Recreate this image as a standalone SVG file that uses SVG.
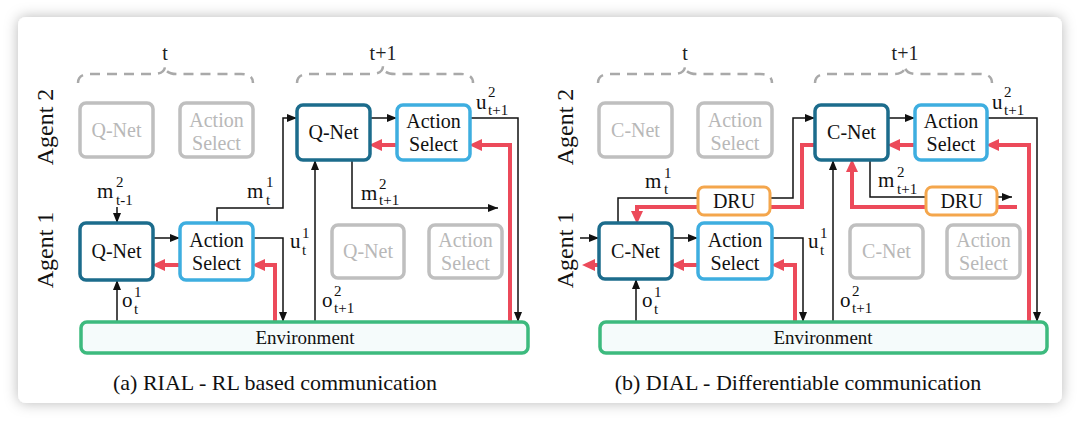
<svg xmlns="http://www.w3.org/2000/svg" width="1080" height="421" viewBox="0 0 1080 421">
  <defs>
    <filter id="cardShadow" x="-5%" y="-10%" width="110%" height="120%">
      <feDropShadow dx="0" dy="0" stdDeviation="7" flood-color="#000" flood-opacity="0.28"/>
    </filter>
    <marker id="ahBlack" markerUnits="userSpaceOnUse" markerWidth="10" markerHeight="8" refX="10" refY="4" orient="auto">
      <path d="M0,0 L10,4 L0,8 z" fill="#111"/>
    </marker>
    <marker id="ahRed" markerUnits="userSpaceOnUse" markerWidth="13" markerHeight="12" refX="7" refY="6" orient="auto">
      <path d="M0,0 L13,6 L0,12 z" fill="#ec4a5a"/>
    </marker>
    <style>
      text { font-family: "Liberation Serif", "Times New Roman", serif; }
      .box { fill: #fff; stroke-width: 3.5; }
      .qnet { stroke: #1c6c8c; }
      .asel { stroke: #3eaee0; }
      .dru { stroke: #f4a64c; stroke-width: 3; }
      .idle { stroke: #bfbfbf; }
      .env { fill: #f5fbfb; stroke: #3dba7e; stroke-width: 3.5; }
      .lbl { font-size: 20px; text-anchor: middle; fill: #111; }
      .lbl.idle-t { fill: #b8b8b8; }
      .brace { fill: none; stroke: #a9a9a9; stroke-width: 2.5; stroke-dasharray: 10 7; }
      .step { font-size: 20px; text-anchor: middle; fill: #222; }
      .agent { font-size: 24px; text-anchor: middle; fill: #111; }
      .cap { font-size: 22px; text-anchor: middle; fill: #111; }
      .wire { fill: none; stroke: #111; stroke-width: 1.5; }
      .wire.arr { marker-end: url(#ahBlack); }
      .grad { fill: none; stroke: #ec4a5a; stroke-width: 4; }
      .grad.arr { marker-end: url(#ahRed); }
      .v { font-size: 21px; fill: #111; }
      .s { font-size: 15px; fill: #111; }
    </style>
  </defs>

  <rect width="1080" height="421" fill="#fff"/>
  <rect x="18" y="17" width="1044" height="386" rx="8" fill="#fff" filter="url(#cardShadow)"/>

  <!-- ===================== (a) RIAL ===================== -->
  <g id="rial">
    <!-- time step braces -->
    <g id="a-brace-t">
      <path class="brace" d="M78,83 Q78,74 90,74 L153,74 Q165,74 165,66 Q165,74 177,74 L241,74 Q253,74 253,83"/>
      <text class="step" x="165" y="60">t</text>
    </g>
    <g id="a-brace-t1">
      <path class="brace" d="M297,83 Q297,74 309,74 L371,74 Q383,74 383,66 Q383,74 395,74 L461,74 Q473,74 473,83"/>
      <text class="step" x="383" y="60">t+1</text>
    </g>

    <g id="a-agent-labels">
      <text class="agent" transform="translate(53,127) rotate(-90)">Agent 2</text>
      <text class="agent" transform="translate(53,250) rotate(-90)">Agent 1</text>
    </g>

    <!-- connectors -->
    <g id="a-connectors">
      <path class="wire arr" d="M117,207 L117,223"/>
      <path class="wire arr" d="M153,238 L180,238"/>
      <path class="grad arr" d="M180,265 L158,265"/>
      <path class="wire arr" d="M117,322 L117,280"/>
      <path class="wire arr" d="M253,238 L283,238 L283,322"/>
      <path class="grad arr" d="M275,322 L275,265 L258,265"/>
      <path class="wire arr" d="M217,223 L217,208 L283,208 L283,118 L297,118"/>
      <path class="wire arr" d="M315,322 L315,160"/>
      <path class="wire arr" d="M370,118 L397,118"/>
      <path class="grad arr" d="M397,145 L375,145"/>
      <path class="wire arr" d="M470,118 L518,118 L518,322"/>
      <path class="grad arr" d="M510,322 L510,145 L475,145"/>
      <path class="wire arr" d="M352,160 L352,208 L498,208"/>
    </g>

    <g id="a-qnet-2-t">
      <rect class="box idle" x="80" y="103" width="73" height="54" rx="6"/>
      <text class="lbl idle-t" x="116.5" y="137">Q-Net</text>
    </g>
    <g id="a-act-2-t">
      <rect class="box idle" x="180" y="103" width="73" height="54" rx="6"/>
      <text class="lbl idle-t" x="216.5" y="127">Action</text>
      <text class="lbl idle-t" x="216.5" y="150">Select</text>
    </g>
    <g id="a-qnet-2-t1">
      <rect class="box qnet" x="297" y="105" width="73" height="55" rx="6"/>
      <text class="lbl" x="333.5" y="139">Q-Net</text>
    </g>
    <g id="a-act-2-t1">
      <rect class="box asel" x="397" y="105" width="73" height="55" rx="6"/>
      <text class="lbl" x="433.5" y="128">Action</text>
      <text class="lbl" x="433.5" y="151">Select</text>
    </g>
    <g id="a-qnet-1-t">
      <rect class="box qnet" x="80" y="223" width="73" height="57" rx="6"/>
      <text class="lbl" x="116.5" y="258">Q-Net</text>
    </g>
    <g id="a-act-1-t">
      <rect class="box asel" x="180" y="223" width="73" height="57" rx="6"/>
      <text class="lbl" x="216.5" y="247">Action</text>
      <text class="lbl" x="216.5" y="270">Select</text>
    </g>
    <g id="a-qnet-1-t1">
      <rect class="box idle" x="332" y="225" width="72" height="53" rx="6"/>
      <text class="lbl idle-t" x="368" y="258">Q-Net</text>
    </g>
    <g id="a-act-1-t1">
      <rect class="box idle" x="429" y="225" width="73" height="53" rx="6"/>
      <text class="lbl idle-t" x="465.5" y="247">Action</text>
      <text class="lbl idle-t" x="465.5" y="270">Select</text>
    </g>
    <g id="a-env">
      <rect class="env" x="81" y="322" width="447" height="31" rx="6"/>
      <text class="lbl" x="305" y="344" style="font-size:19px">Environment</text>
    </g>

    <!-- variable labels -->
    <g id="a-vars">
      <text class="v" x="97" y="198">m</text><text class="s" x="116" y="187">2</text><text class="s" x="116" y="205">t-1</text>
      <text class="v" x="247" y="198">m</text><text class="s" x="266" y="187">1</text><text class="s" x="266" y="205">t</text>
      <text class="v" x="476" y="109">u</text><text class="s" x="488" y="97">2</text><text class="s" x="488" y="115">t+1</text>
      <text class="v" x="361" y="200">m</text><text class="s" x="379" y="189">2</text><text class="s" x="379" y="205">t+1</text>
      <text class="v" x="290" y="248">u</text><text class="s" x="302" y="238">1</text><text class="s" x="302" y="255">t</text>
      <text class="v" x="122" y="307">o</text><text class="s" x="134" y="297">1</text><text class="s" x="134" y="314">t</text>
      <text class="v" x="322" y="307">o</text><text class="s" x="334" y="296">2</text><text class="s" x="334" y="313">t+1</text>
    </g>

    <text class="cap" x="275" y="390">(a) RIAL - RL based communication</text>
  </g>

  <!-- ===================== (b) DIAL ===================== -->
  <g id="dial">
    <g id="b-brace-t">
      <path class="brace" d="M598,83 Q598,74 610,74 L673,74 Q685,74 685,66 Q685,74 697,74 L760,74 Q772,74 772,83"/>
      <text class="step" x="685" y="60">t</text>
    </g>
    <g id="b-brace-t1">
      <path class="brace" d="M815,83 Q815,74 827,74 L893,74 Q905,74 905,66 Q905,74 917,74 L980,74 Q992,74 992,83"/>
      <text class="step" x="905" y="60">t+1</text>
    </g>

    <g id="b-agent-labels">
      <text class="agent" transform="translate(573,127) rotate(-90)">Agent 2</text>
      <text class="agent" transform="translate(573,250) rotate(-90)">Agent 1</text>
    </g>

    <g id="b-connectors">
      <path class="wire arr" d="M580,238 L599,238"/>
      <path class="grad arr" d="M599,265 L588,265"/>
      <path class="wire arr" d="M672,238 L698,238"/>
      <path class="grad arr" d="M698,265 L677,265"/>
      <path class="wire arr" d="M636,322 L636,279"/>
      <path class="wire arr" d="M772,238 L803,238 L803,322"/>
      <path class="grad arr" d="M795,322 L795,265 L777,265"/>
      <path class="wire arr" d="M618,223 L618,198 L793,198 L793,118 L815,118"/>
      <path class="grad arr" d="M815,145 L802,145 L802,207 L637,207 L637,218"/>
      <path class="wire arr" d="M833,322 L833,160"/>
      <path class="grad arr" d="M1017,207 L852,207 L852,165"/>
      <path class="wire arr" d="M870,160 L870,197 L1012,197"/>
      <path class="wire arr" d="M888,118 L915,118"/>
      <path class="grad arr" d="M915,145 L893,145"/>
      <path class="wire arr" d="M987,118 L1037,118 L1037,322"/>
      <path class="grad arr" d="M1029,322 L1029,145 L992,145"/>
    </g>

    <g id="b-cnet-2-t">
      <rect class="box idle" x="599" y="103" width="73" height="54" rx="6"/>
      <text class="lbl idle-t" x="635.5" y="137">C-Net</text>
    </g>
    <g id="b-act-2-t">
      <rect class="box idle" x="698" y="103" width="74" height="54" rx="6"/>
      <text class="lbl idle-t" x="735" y="127">Action</text>
      <text class="lbl idle-t" x="735" y="150">Select</text>
    </g>
    <g id="b-cnet-2-t1">
      <rect class="box qnet" x="815" y="105" width="73" height="55" rx="6"/>
      <text class="lbl" x="851.5" y="139">C-Net</text>
    </g>
    <g id="b-act-2-t1">
      <rect class="box asel" x="915" y="105" width="72" height="55" rx="6"/>
      <text class="lbl" x="951" y="128">Action</text>
      <text class="lbl" x="951" y="151">Select</text>
    </g>
    <g id="b-dru-t">
      <rect class="box dru" x="698" y="187" width="72" height="28" rx="6"/>
      <text class="lbl" x="734" y="208">DRU</text>
    </g>
    <g id="b-dru-t1">
      <rect class="box dru" x="926" y="187" width="71" height="28" rx="6"/>
      <text class="lbl" x="961.5" y="208">DRU</text>
    </g>
    <g id="b-cnet-1-t">
      <rect class="box qnet" x="599" y="223" width="73" height="56" rx="6"/>
      <text class="lbl" x="635.5" y="258">C-Net</text>
    </g>
    <g id="b-act-1-t">
      <rect class="box asel" x="698" y="223" width="74" height="56" rx="6"/>
      <text class="lbl" x="735" y="247">Action</text>
      <text class="lbl" x="735" y="270">Select</text>
    </g>
    <g id="b-cnet-1-t1">
      <rect class="box idle" x="850" y="225" width="73" height="53" rx="6"/>
      <text class="lbl idle-t" x="886.5" y="258">C-Net</text>
    </g>
    <g id="b-act-1-t1">
      <rect class="box idle" x="947" y="225" width="73" height="53" rx="6"/>
      <text class="lbl idle-t" x="983.5" y="247">Action</text>
      <text class="lbl idle-t" x="983.5" y="270">Select</text>
    </g>
    <g id="b-env">
      <rect class="env" x="600" y="322" width="447" height="31" rx="6"/>
      <text class="lbl" x="823" y="344" style="font-size:19px">Environment</text>
    </g>

    <g id="b-vars">
      <text class="v" x="645" y="188">m</text><text class="s" x="664" y="178">1</text><text class="s" x="664" y="194">t</text>
      <text class="v" x="992" y="109">u</text><text class="s" x="1004" y="97">2</text><text class="s" x="1004" y="115">t+1</text>
      <text class="v" x="878" y="187">m</text><text class="s" x="897" y="177">2</text><text class="s" x="897" y="194">t+1</text>
      <text class="v" x="808" y="248">u</text><text class="s" x="820" y="238">1</text><text class="s" x="820" y="255">t</text>
      <text class="v" x="642" y="307">o</text><text class="s" x="654" y="297">1</text><text class="s" x="654" y="314">t</text>
      <text class="v" x="840" y="307">o</text><text class="s" x="852" y="296">2</text><text class="s" x="852" y="313">t+1</text>
    </g>

    <text class="cap" x="798" y="390">(b) DIAL - Differentiable communication</text>
  </g>
</svg>
